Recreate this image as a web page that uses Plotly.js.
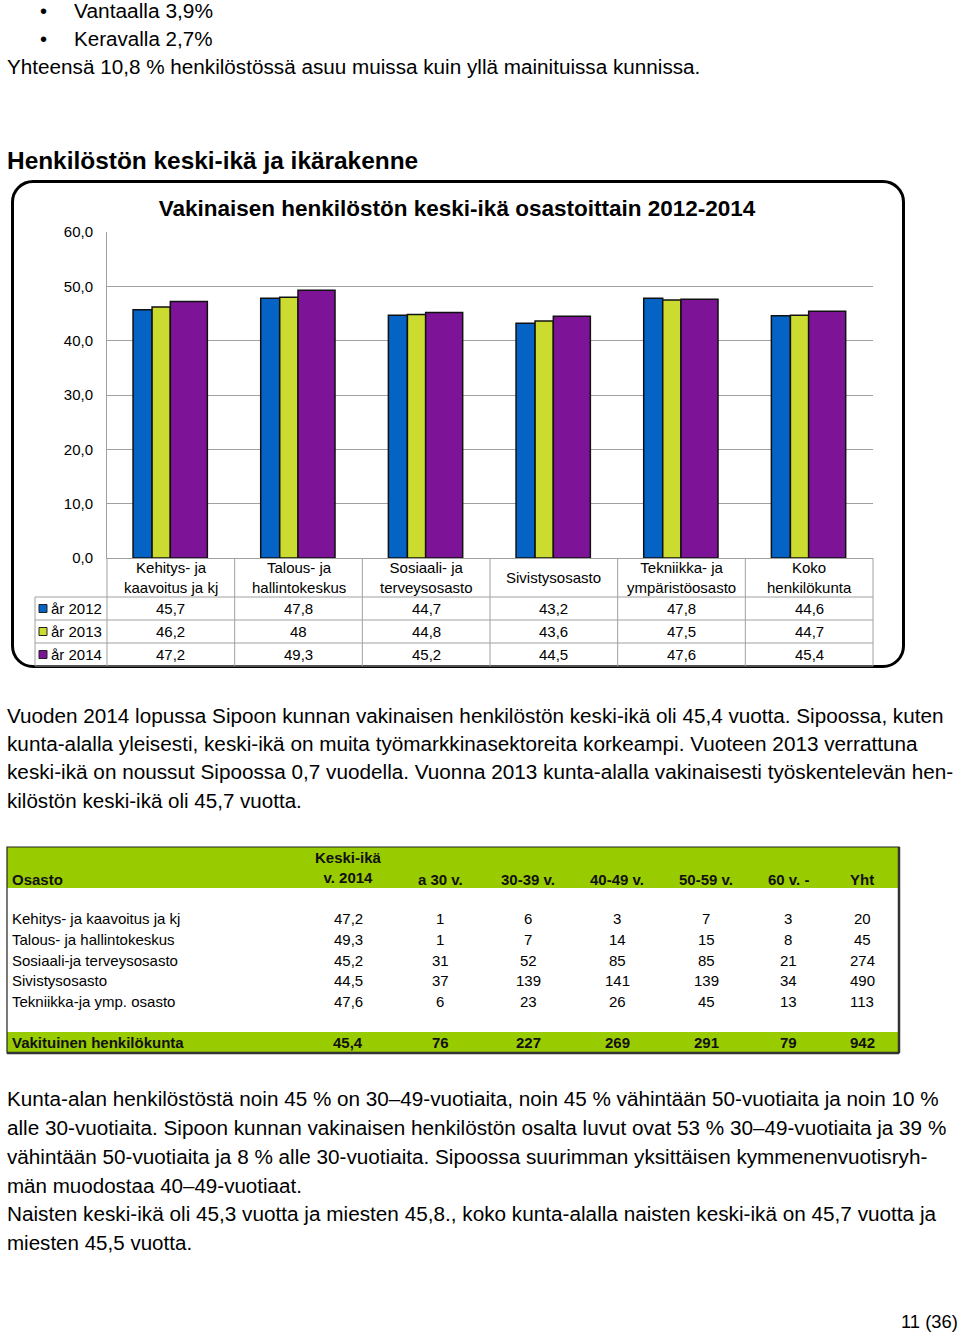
<!DOCTYPE html>
<html><head><meta charset="utf-8">
<script src="https://cdn.plot.ly/plotly-3.0.1.min.js"></script>
<style>
html,body{margin:0;padding:0;background:#fff;}
#page{position:relative;width:960px;height:1333px;overflow:hidden;background:#fff;font-family:"Liberation Sans",Arial,sans-serif;color:#000;}
#chartbox{position:absolute;left:11px;top:180px;width:894px;height:488px;border:3px solid #000;border-radius:22px;box-sizing:border-box;z-index:0;}
#plot{position:absolute;left:0;top:0;width:960px;height:1333px;z-index:1;}
.ln{position:absolute;white-space:nowrap;transform-origin:0 50%;z-index:2;}
</style></head>
<body><div id="page"><div id="chartbox"></div><div id="plot"></div></div>
<script>
// ---------- chart data ----------
const categories = ["Kehitys- ja kaavoitus ja kj","Talous- ja hallintokeskus","Sosiaali- ja terveysosasto","Sivistysosasto","Tekniikka- ja ympäristöosasto","Koko henkilökunta"];
const categoryLabels = ["Kehitys- ja<br>kaavoitus ja kj","Talous- ja<br>hallintokeskus","Sosiaali- ja<br>terveysosasto","Sivistysosasto","Tekniikka- ja<br>ympäristöosasto","Koko<br>henkilökunta"];
const seriesNames = ["år 2012","år 2013","år 2014"];
const age2012 = [45.7, 47.8, 44.7, 43.2, 47.8, 44.6];
const age2013 = [46.2, 48, 44.8, 43.6, 47.5, 44.7];
const age2014 = [47.2, 49.3, 45.2, 44.5, 47.6, 45.4];
const yTicks = [0, 10, 20, 30, 40, 50, 60];
const chartTitle = "Vakinaisen henkilöstön keski-ikä osastoittain 2012-2014";

// ---------- age structure table data ----------
const tableHeaders = ["Osasto","Keski-ikä<br>v. 2014","a 30 v.","30-39 v.","40-49 v.","50-59 v.","60 v. -","Yht"];
const departments = ["Kehitys- ja kaavoitus ja kj","Talous- ja hallintokeskus","Sosiaali-ja terveysosasto","Sivistysosasto","Tekniikka-ja ymp. osasto"];
const deptMeanAge = [47.2, 49.3, 45.2, 44.5, 47.6];
const under30 = [1, 1, 31, 37, 6];
const age30to39 = [6, 7, 52, 139, 23];
const age40to49 = [3, 14, 85, 141, 26];
const age50to59 = [7, 15, 85, 139, 45];
const over60 = [3, 8, 21, 34, 13];
const deptTotal = [20, 45, 274, 490, 113];
const totalLabel = "Vakituinen henkilökunta";
const totalRow = [45.4, 76, 227, 269, 291, 79, 942];

// ---------- page text ----------
const textLines = [
 {t:"•", x:40, y:11, size:20},
 {t:"Vantaalla 3,9%", x:74, y:11, r:213, size:20},
 {t:"•", x:40, y:39, size:20},
 {t:"Keravalla 2,7%", x:74, y:39, r:213, size:20},
 {t:"Yhteensä 10,8 % henkilöstössä asuu muissa kuin yllä mainituissa kunnissa.", x:7, y:67, r:700, size:20},
 {t:"Henkilöstön keski-ikä ja ikärakenne", x:7, y:160, r:418, size:24, b:1},
 {t:"Vuoden 2014 lopussa Sipoon kunnan vakinaisen henkilöstön keski-ikä oli 45,4 vuotta. Sipoossa, kuten", x:7, y:716, r:943, size:20},
 {t:"kunta-alalla yleisesti, keski-ikä on muita työmarkkinasektoreita korkeampi. Vuoteen 2013 verrattuna", x:7, y:744, r:918, size:20},
 {t:"keski-ikä on noussut Sipoossa 0,7 vuodella. Vuonna 2013 kunta-alalla vakinaisesti työskentelevän hen-", x:7, y:772, r:953, size:20},
 {t:"kilöstön keski-ikä oli 45,7 vuotta.", x:7, y:801, r:302, size:20},
 {t:"Kunta-alan henkilöstöstä noin 45 % on 30–49-vuotiaita, noin 45 % vähintään 50-vuotiaita ja noin 10 %", x:7, y:1099, r:939, size:20},
 {t:"alle 30-vuotiaita. Sipoon kunnan vakinaisen henkilöstön osalta luvut ovat 53 % 30–49-vuotiaita ja 39 %", x:7, y:1128, r:946, size:20},
 {t:"vähintään 50-vuotiaita ja 8 % alle 30-vuotiaita. Sipoossa suurimman yksittäisen kymmenenvuotisryh-", x:7, y:1157, r:927, size:20},
 {t:"män muodostaa 40–49-vuotiaat.", x:7, y:1186, r:302, size:20},
 {t:"Naisten keski-ikä oli 45,3 vuotta ja miesten 45,8., koko kunta-alalla naisten keski-ikä on 45,7 vuotta ja", x:7, y:1214, r:936, size:20},
 {t:"miesten 45,5 vuotta.", x:7, y:1243, r:192, size:20},
 {t:"11 (36)", x:901, y:1321, r:958, size:19}
];

const FONT = '"Liberation Sans", Arial, sans-serif';
const W = 960, H = 1333;
const px = x => x / W;
const py = y => 1 - y / H;
const fmt = v => String(v).replace('.', ',');

// chart geometry (pixels)
const plotL = 107, plotR = 873, plotT = 232, plotB = 558;
const colW = (plotR - plotL) / categories.length;
const tblLeft = 35, rowH = 23, tblRows = [597, 620, 643, 666];
const gridCol = '#a0a0a0';

const series = [age2012, age2013, age2014];
const barStyle = [
  {color:'#0463C4', offset:-0.296, width:0.149},
  {color:'#CBDB2F', offset:-0.147, width:0.143},
  {color:'#7D1497', offset:-0.004, width:0.290}
];

const traces = series.map((vals, i) => ({
  type:'bar', x:categories, y:vals, name:seriesNames[i],
  offset:barStyle[i].offset, width:barStyle[i].width,
  marker:{color:barStyle[i].color, line:{color:'#111', width:1.5}},
  hoverinfo:'skip'
}));

const shapes = [];
const annotations = [];
const line = (x0,y0,x1,y1,color,w) => shapes.push({type:'line', xref:'paper', yref:'paper', x0:px(x0), y0:py(y0), x1:px(x1), y1:py(y1), line:{color:color, width:w}});

// chart data table grid
tblRows.forEach(y => line(tblLeft, y, plotR, y, gridCol, 1));
line(tblLeft, tblRows[0], tblLeft, tblRows[3], gridCol, 1);
for (let k = 0; k <= categories.length; k++) {
  const x = plotL + k * colW;
  line(x, plotB, x, tblRows[3], gridCol, 1);
}
// header labels
categories.forEach((c, i) => annotations.push({
  xref:'x', yref:'paper', x:c, y:py((plotB + tblRows[0]) / 2), text:categoryLabels[i],
  showarrow:false, xanchor:'center', yanchor:'middle', font:{size:15, color:'#000'}
}));
// rows
series.forEach((vals, r) => {
  const yc = tblRows[r] + rowH / 2;
  shapes.push({type:'rect', xref:'paper', yref:'paper', x0:px(39), x1:px(47), y0:py(yc - 4), y1:py(yc + 4),
    fillcolor:barStyle[r].color, line:{color:'#222', width:1}});
  annotations.push({xref:'paper', yref:'paper', x:px(49), y:py(yc), text:seriesNames[r], showarrow:false,
    xanchor:'left', yanchor:'middle', font:{size:15, color:'#000'}});
  vals.forEach((v, i) => annotations.push({
    xref:'x', yref:'paper', x:categories[i], y:py(yc), text:fmt(v), showarrow:false,
    xanchor:'center', yanchor:'middle', font:{size:15, color:'#000'}
  }));
});

// ---------- age structure table ----------
const gT = 847, gHeadB = 888, gTotT = 1032, gB = 1053, gL = 7, gR = 899, gRowH = 20.6;
const colX = [10, 348, 440, 528, 617, 706, 788, 862];
const green = '#99CC00';
shapes.push({type:'rect', xref:'paper', yref:'paper', x0:px(gL), x1:px(gR), y0:py(gT), y1:py(gHeadB), fillcolor:green, line:{width:0}, layer:'below'});
shapes.push({type:'rect', xref:'paper', yref:'paper', x0:px(gL), x1:px(gR), y0:py(gTotT), y1:py(gB), fillcolor:green, line:{width:0}, layer:'below'});
shapes.push({type:'rect', xref:'paper', yref:'paper', x0:px(gL), x1:px(gR), y0:py(gT), y1:py(gB), line:{color:'#222', width:1.2}});
line(gR, gT, gR, gB, '#333', 2.5);
line(gL, gB, gR, gB, '#333', 2.5);

tableHeaders.forEach((h, c) => {
  const n = h.split('<br>').length;
  annotations.push({xref:'paper', yref:'paper', x:px(colX[c]), y:py(879 - (n - 1) * 21 / 2 - (n > 1 ? 1.5 : 0)),
    text:'<b>' + h.replace('<br>', '</b><br><b>') + '</b>', showarrow:false,
    xanchor: c === 0 ? 'left' : 'center', yanchor:'middle', font:{size:15, color:'#111'}});
});
const cols = [deptMeanAge.map(fmt), under30, age30to39, age40to49, age50to59, over60, deptTotal];
departments.forEach((d, r) => {
  const yc = gHeadB + gRowH * (r + 1.5);
  annotations.push({xref:'paper', yref:'paper', x:px(colX[0]), y:py(yc), text:d, showarrow:false,
    xanchor:'left', yanchor:'middle', font:{size:15, color:'#000'}});
  cols.forEach((col, c) => annotations.push({xref:'paper', yref:'paper', x:px(colX[c + 1]), y:py(yc),
    text:String(col[r]), showarrow:false, xanchor:'center', yanchor:'middle', font:{size:15, color:'#000'}}));
});
const totY = (gTotT + gB) / 2;
annotations.push({xref:'paper', yref:'paper', x:px(colX[0]), y:py(totY), text:'<b>' + totalLabel + '</b>', showarrow:false,
  xanchor:'left', yanchor:'middle', font:{size:15, color:'#111'}});
totalRow.forEach((v, c) => annotations.push({xref:'paper', yref:'paper', x:px(colX[c + 1]), y:py(totY),
  text:'<b>' + fmt(v) + '</b>', showarrow:false, xanchor:'center', yanchor:'middle', font:{size:15, color:'#111'}}));

const layout = {
  width:W, height:H, margin:{l:0, r:0, t:0, b:0, pad:0},
  paper_bgcolor:'rgba(0,0,0,0)', plot_bgcolor:'rgba(0,0,0,0)',
  separators:', ', showlegend:false, barmode:'group',
  font:{family:FONT, size:15, color:'#000'},
  title:{text:'<b>' + chartTitle + '</b>', x:px(457), xanchor:'center', y:py(208), yanchor:'middle',
    font:{family:FONT, size:22.5, color:'#000'}},
  xaxis:{domain:[px(plotL), px(plotR)], type:'category', range:[-0.5, 5.5], showticklabels:false, ticks:'',
    showgrid:false, showline:true, linecolor:gridCol, linewidth:1, zeroline:false, fixedrange:true, automargin:false},
  yaxis:{domain:[py(plotB), py(plotT)], range:[0, 60], tickvals:yTicks, tickformat:'.1f', ticks:'outside', ticklen:10,
    tickcolor:'rgba(0,0,0,0)', showgrid:true, gridcolor:gridCol, gridwidth:1, showline:true, linecolor:gridCol, linewidth:1,
    zeroline:false, tickfont:{size:15, color:'#000'}, fixedrange:true, automargin:false},
  shapes:shapes, annotations:annotations
};

Plotly.newPlot('plot', traces, layout, {staticPlot:true, displayModeBar:false});

// ---------- page text lines ----------
const page = document.getElementById('page');
const els = textLines.map(l => {
  const d = document.createElement('div');
  d.className = 'ln';
  d.textContent = l.t;
  const h = Math.round(l.size * 1.2);
  d.style.left = l.x + 'px';
  d.style.top = (l.y - h / 2) + 'px';
  d.style.height = h + 'px';
  d.style.lineHeight = h + 'px';
  d.style.fontSize = l.size + 'px';
  if (l.b) d.style.fontWeight = 'bold';
  page.appendChild(d);
  return d;
});
function fit() {
  textLines.forEach((l, i) => {
    if (!l.r) return;
    const w = els[i].offsetWidth; // unaffected by transforms
    if (w > 0) {
      let s = (l.r - l.x) / w;
      s = Math.max(0.8, Math.min(1.2, s));
      els[i].style.transform = 'scaleX(' + s.toFixed(4) + ')';
    }
  });
}
fit();
if (document.fonts && document.fonts.ready) document.fonts.ready.then(fit);
</script>
</body></html>
